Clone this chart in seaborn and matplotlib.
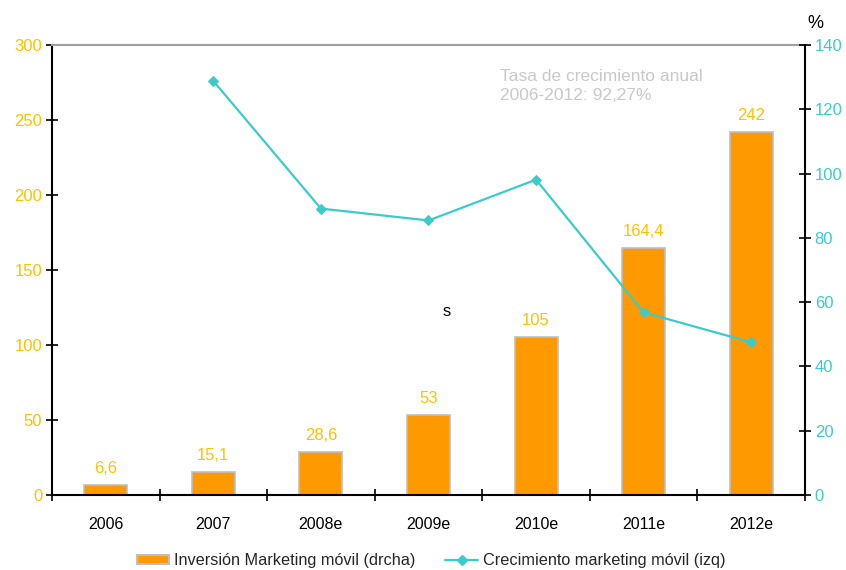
import matplotlib
matplotlib.use("Agg")
import matplotlib.pyplot as plt
import seaborn as sns
import pandas as pd
from matplotlib.patches import Patch
from matplotlib.lines import Line2D

years = ["2006", "2007", "2008e", "2009e", "2010e", "2011e", "2012e"]
inversion = [6.6, 15.1, 28.6, 53, 105, 164.4, 242]
inversion_labels = ["6,6", "15,1", "28,6", "53", "105", "164,4", "242"]
crecimiento = [None, 128.8, 89.1, 85.4, 98.1, 56.8, 47.5]

ORANGE = "#FF9900"
GOLD = "#FFC000"
TEAL = "#3CCBCB"
FS = 12

sns.set_theme(style="white")
plt.rcParams["font.family"] = ["Liberation Sans", "DejaVu Sans"]

fig = plt.figure(figsize=(8.46, 5.70), dpi=100)
ax = fig.add_axes([0.0615, 0.1316, 0.8900, 0.7895])

df = pd.DataFrame({"year": years, "inv": inversion})
sns.barplot(data=df, x="year", y="inv", ax=ax, color=ORANGE, width=0.40,
            edgecolor="#BFBFBF", linewidth=1.2, saturation=1)

for i, (v, lab) in enumerate(zip(inversion, inversion_labels)):
    ax.text(i, v + 6, lab, ha="center", va="bottom", color=GOLD, fontsize=FS)

ax.set_ylim(0, 300)
ax.set_xlim(-0.5, len(years) - 0.5)
ax.set_yticks(range(0, 301, 50))
ax.set_xlabel("")
ax.set_ylabel("")
ax.tick_params(axis="y", colors="black", labelcolor=GOLD, labelsize=FS,
               direction="inout", length=8, width=1.2, left=True, pad=3)
ax.tick_params(axis="x", bottom=False, labelsize=FS - 0.5, labelcolor="black", pad=10)
# boundary ticks between categories
ax.set_xticks([i + 0.5 for i in range(-1, len(years))], minor=True)
ax.tick_params(axis="x", which="minor", bottom=True, direction="inout",
               length=8, width=1.2, color="black")

for side in ["left", "bottom"]:
    ax.spines[side].set_color("black")
    ax.spines[side].set_linewidth(1.5)
ax.spines["top"].set_color("#A0A0A0")
ax.spines["top"].set_linewidth(1.5)
ax.spines["right"].set_visible(False)

ax2 = ax.twinx()
xs = [i for i, c in enumerate(crecimiento) if c is not None]
ys = [c for c in crecimiento if c is not None]
sns.lineplot(x=xs, y=ys, ax=ax2, color=TEAL, linewidth=1.6, marker="D",
             markersize=5, markeredgecolor=TEAL)
ax2.set_ylim(0, 140)
ax2.set_yticks(range(0, 141, 20))
ax2.tick_params(axis="y", colors="black", labelcolor=TEAL, labelsize=FS,
                direction="inout", length=8, width=1.2, right=True, pad=3)
ax2.spines["right"].set_visible(True)
ax2.spines["right"].set_color("black")
ax2.spines["right"].set_linewidth(1.5)
for side in ["left", "top", "bottom"]:
    ax2.spines[side].set_visible(False)
ax2.grid(False)
ax.grid(False)

fig.text(815 / 846, 1 - 23 / 570, "%", ha="center", va="center", fontsize=FS + 1, color="black")
fig.text(500 / 846, 1 - 86 / 570, "Tasa de crecimiento anual\n2006-2012: 92,27%",
         ha="left", va="center", fontsize=12.5, color="#C8C8C8", linespacing=1.3)
fig.text(447 / 846, 1 - 312 / 570, "s", ha="center", va="center", fontsize=FS, color="black")

handles = [
    Patch(facecolor=ORANGE, edgecolor="#BFBFBF", linewidth=1.5),
    Line2D([0], [0], color=TEAL, lw=1.6, marker="D", markersize=5),
]
fig.legend(handles, ["Inversión Marketing móvil (drcha)", "Crecimiento marketing móvil (izq)"],
           loc="center", bbox_to_anchor=(431 / 846, 1 - 561 / 570), ncol=2, frameon=False,
           fontsize=11.7, handlelength=2.0, handleheight=0.5, handletextpad=0.3,
           columnspacing=1.85, borderpad=0, borderaxespad=0)

fig.savefig("out.png", dpi=100)
